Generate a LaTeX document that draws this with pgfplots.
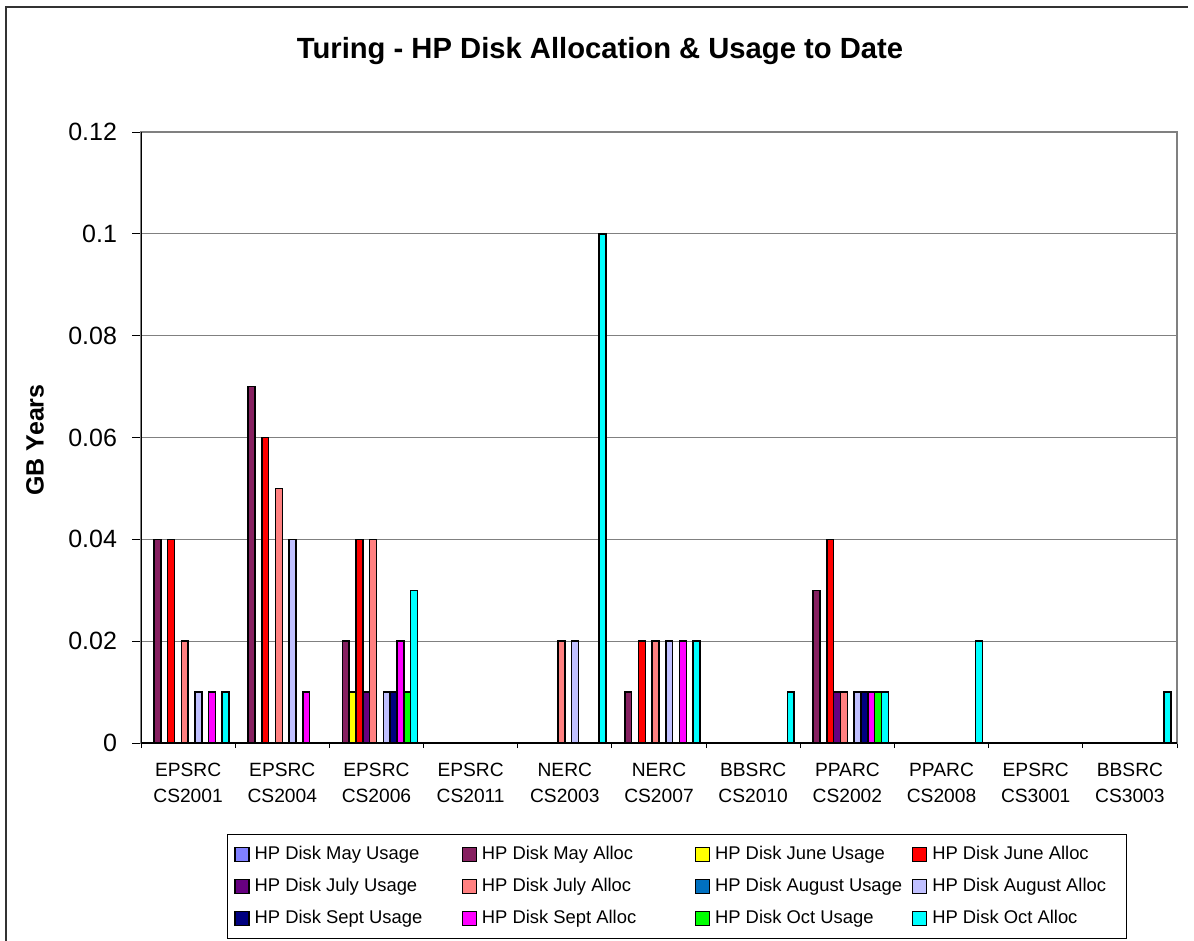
\documentclass[border=0pt]{standalone}
\usepackage{fontspec}
\setmainfont{Liberation Sans}
\usepackage{pgfplots}
\pgfplotsset{compat=1.18}

\definecolor{cMayU}{HTML}{8080FF}
\definecolor{cMayA}{HTML}{862060}
\definecolor{cJunU}{HTML}{FFFF00}
\definecolor{cJunA}{HTML}{FF0000}
\definecolor{cJulU}{HTML}{660080}
\definecolor{cJulA}{HTML}{FF8080}
\definecolor{cAugU}{HTML}{0070C0}
\definecolor{cAugA}{HTML}{C0C0FF}
\definecolor{cSepU}{HTML}{000080}
\definecolor{cSepA}{HTML}{FF00FF}
\definecolor{cOctU}{HTML}{00FF00}
\definecolor{cOctA}{HTML}{00FFFF}

% legend entry with a fixed cell width
\newcommand{\LE}[2]{\makebox[#1][l]{\hspace{2.5pt}#2}}

\begin{document}
\begin{tikzpicture}[x=0.5pt,y=-0.5pt]
\useasboundingbox (0,0) rectangle (1194,941);
\draw[line width=0.9pt,black!80] (6,960) -- (6,7) -- (1188,7);
\node[font=\fontsize{14.6}{16}\selectfont\bfseries] at (600,51) {Turing - HP Disk Allocation \& Usage to Date};
\node[font=\fontsize{12.5}{14}\selectfont\bfseries, rotate=90] at (35,440) {GB Years};

\begin{axis}[
    at={(70.5pt,-371.5pt)}, anchor=south west,
    width=518pt, height=305.5pt, scale only axis,
    ybar, bar width=3.415pt,
    xmin=-0.5, xmax=10.5,
    ymin=0, ymax=0.12,
    ytick={0,0.02,0.04,0.06,0.08,0.1,0.12},
    scaled y ticks=false,
    yticklabel style={/pgf/number format/fixed, /pgf/number format/precision=2, xshift=-4pt},
    /pgf/number format/assume math mode=true,
    xtick={0,1,2,3,4,5,6,7,8,9,10},
    xticklabels={{EPSRC\\CS2001},{EPSRC\\CS2004},{EPSRC\\CS2006},{EPSRC\\CS2011},{NERC\\CS2003},{NERC\\CS2007},{BBSRC\\CS2010},{PPARC\\CS2002},{PPARC\\CS2008},{EPSRC\\CS3001},{BBSRC\\CS3003}},
    xticklabel style={align=center, font=\fontsize{9.6}{13}\selectfont, yshift=-2pt},
    ticklabel style={font=\fontsize{12.5}{14}\selectfont},
    minor xtick={-0.5,0.5,1.5,2.5,3.5,4.5,5.5,6.5,7.5,8.5,9.5,10.5},
    major x tick style={draw=none},
    tick align=outside, xtick pos=bottom, ytick pos=left,
    major tick length=4.5pt, minor tick length=2.5pt,
    tick style={black, line width=0.5pt},
    ymajorgrids, major grid style={gray, line width=0.6pt},
    axis line style={gray, line width=0.6pt},
    every axis plot/.append style={draw=black, line width=0.75pt},
    legend image code/.code={\draw[#1,draw=black,line width=0.6pt] (0pt,-3.5pt) rectangle (7pt,3.5pt);},
    legend columns=4,
    legend style={at={(0.083,-0.149)}, anchor=north west, draw=black, line width=0.5pt,
        font=\fontsize{9.2}{10}\selectfont, column sep=0pt, row sep=7.4pt,
        inner xsep=3.5pt, inner ysep=5.5pt,
        nodes={inner sep=0pt, anchor=west, text height=6.8pt, text depth=1.9pt}},
]
\addlegendimage{fill=cMayU}
\addlegendentry{\LE{106pt}{HP Disk May Usage}}

\addplot[fill=cMayA, bar shift=-15.3675pt] coordinates {(0,0.04) (1,0.07) (2,0.02) (5,0.01) (7,0.03)};
\addlegendentry{\LE{109pt}{HP Disk May Alloc}}

\addplot[fill=cJunU, bar shift=-11.9525pt] coordinates {(2,0.01)};
\addlegendentry{\LE{101pt}{HP Disk June Usage}}

\addplot[fill=cJunA, bar shift=-8.5375pt] coordinates {(0,0.04) (1,0.06) (2,0.04) (5,0.02) (7,0.04)};
\addlegendentry{\LE{96pt}{HP Disk June Alloc}}

\addplot[fill=cJulU, bar shift=-5.1225pt] coordinates {(2,0.01) (7,0.01)};
\addlegendentry{\LE{106pt}{HP Disk July Usage}}

\addplot[fill=cJulA, bar shift=-1.7075pt] coordinates {(0,0.02) (1,0.05) (2,0.04) (4,0.02) (5,0.02) (7,0.01)};
\addlegendentry{\LE{109pt}{HP Disk July Alloc}}

\addlegendimage{fill=cAugU}
\addlegendentry{\LE{101pt}{HP Disk August Usage}}

\addplot[fill=cAugA, bar shift=5.1225pt] coordinates {(0,0.01) (1,0.04) (2,0.01) (4,0.02) (5,0.02) (7,0.01)};
\addlegendentry{\LE{96pt}{HP Disk August Alloc}}

\addplot[fill=cSepU, bar shift=8.5375pt] coordinates {(2,0.01) (7,0.01)};
\addlegendentry{\LE{106pt}{HP Disk Sept Usage}}

\addplot[fill=cSepA, bar shift=11.9525pt] coordinates {(0,0.01) (1,0.01) (2,0.02) (5,0.02) (7,0.01)};
\addlegendentry{\LE{109pt}{HP Disk Sept Alloc}}

\addplot[fill=cOctU, bar shift=15.3675pt] coordinates {(2,0.01) (7,0.01)};
\addlegendentry{\LE{101pt}{HP Disk Oct Usage}}

\addplot[fill=cOctA, bar shift=18.7825pt] coordinates {(0,0.01) (2,0.03) (4,0.1) (5,0.02) (6,0.01) (7,0.01) (8,0.02) (10,0.01)};
\addlegendentry{\LE{96pt}{HP Disk Oct Alloc}}

\draw[black, line width=0.6pt] (rel axis cs:0,1) -- (rel axis cs:0,0) -- (rel axis cs:1,0);
\end{axis}
\end{tikzpicture}
\end{document}
